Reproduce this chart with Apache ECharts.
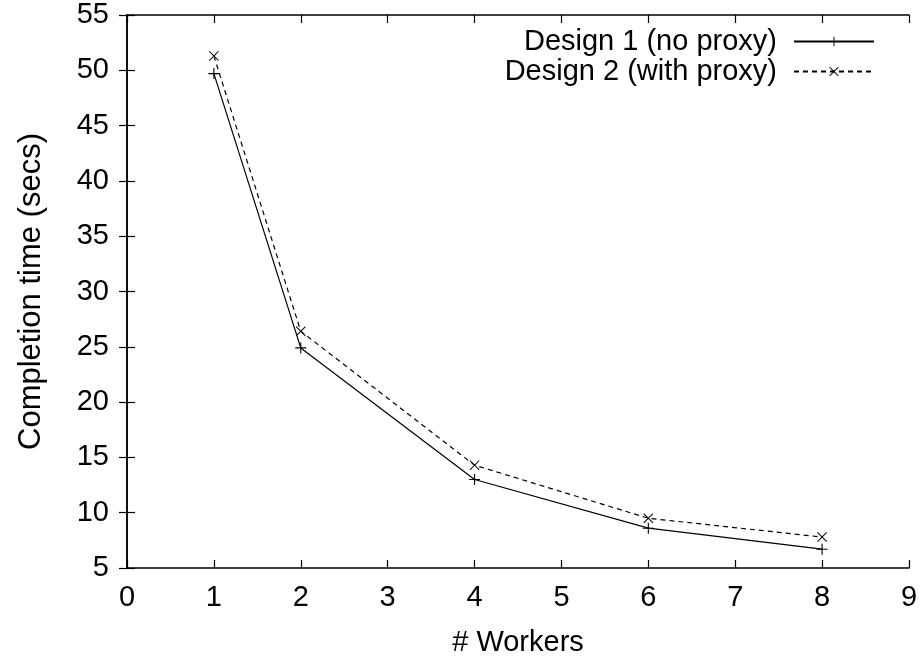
<!DOCTYPE html>
<html><head><meta charset="utf-8">
<script src="https://cdn.jsdelivr.net/npm/echarts@6/dist/echarts.min.js"></script>
<style>html,body{margin:0;padding:0;background:#fff}#c{width:920px;height:656px}</style>
</head><body><div id="c"></div>
<script>
const workers = [1, 2, 4, 6, 8];
const design1 = [49.7, 24.9, 13.0, 8.6, 6.7];
const design2 = [51.3, 26.4, 14.3, 9.5, 7.8];
const seriesNames = ['Design 1 (no proxy)', 'Design 2 (with proxy)'];
const xTicks = {min: 0, max: 9, interval: 1};
const yTicks = {min: 5, max: 55, interval: 5};

const FONT = 'Liberation Sans, Arial, sans-serif';
const FS = 29;
const plusPath = 'path://M4.5,0H5.5V10H4.5Z M0,4.5H10V5.5H0Z';
const crossPath = 'path://M0.7,0L5,4.3L9.3,0L10,0.7L5.7,5L10,9.3L9.3,10L5,5.7L0.7,10L0,9.3L4.3,5L0,0.7Z';

const chart = echarts.init(document.getElementById('c'));
const axisCommon = {
  axisLine: {show: true, lineStyle: {color: '#000', width: 1.5}},
  axisTick: {show: true, inside: true, length: 8, lineStyle: {color: '#000', width: 1.2}},
  splitLine: {show: false}
};
chart.setOption({
  animation: false,
  backgroundColor: '#fff',
  grid: {left: 127, right: 11, top: 15, bottom: 88, containLabel: false, outerBoundsMode: 'none'},
  legend: {
    orient: 'vertical', right: 40, top: 22, align: 'right',
    itemWidth: 80, itemHeight: 12, itemGap: 1,
    textStyle: {fontFamily: FONT, fontSize: FS, color: '#000', padding: [0, 12, 0, 0]},
    data: seriesNames
  },
  xAxis: [
    Object.assign({type: 'value', position: 'bottom', min: xTicks.min, max: xTicks.max, interval: xTicks.interval,
      name: '# Workers', nameLocation: 'middle', nameGap: 60,
      nameTextStyle: {fontFamily: FONT, fontSize: FS, color: '#000'},
      axisLabel: {fontFamily: FONT, fontSize: FS, color: '#000', margin: 15}}, axisCommon),
    Object.assign({type: 'value', position: 'top', min: xTicks.min, max: xTicks.max, interval: xTicks.interval,
      axisLabel: {show: false}}, axisCommon)
  ],
  yAxis: [
    Object.assign({type: 'value', position: 'left', min: yTicks.min, max: yTicks.max, interval: yTicks.interval,
      name: 'Completion time (secs)', nameLocation: 'middle', nameGap: 80, nameRotate: 90,
      nameTextStyle: {fontFamily: FONT, fontSize: 31, color: '#000'},
      axisLabel: {fontFamily: FONT, fontSize: FS, color: '#000', margin: 18}}, axisCommon),
    Object.assign({type: 'value', position: 'right', min: yTicks.min, max: yTicks.max, interval: yTicks.interval,
      axisLabel: {show: false}}, axisCommon)
  ],
  series: [
    {name: seriesNames[0], type: 'line', data: workers.map((w, i) => [w, design1[i]]),
     symbol: plusPath, symbolSize: 11, showSymbol: true,
     lineStyle: {color: '#000', width: 1.2, type: 'solid'}, itemStyle: {color: '#000'}},
    {name: seriesNames[1], type: 'line', data: workers.map((w, i) => [w, design2[i]]),
     symbol: crossPath, symbolSize: 10, showSymbol: true,
     lineStyle: {color: '#000', width: 1.2, type: [5, 4]}, itemStyle: {color: '#000'}}
  ]
});
</script></body></html>
